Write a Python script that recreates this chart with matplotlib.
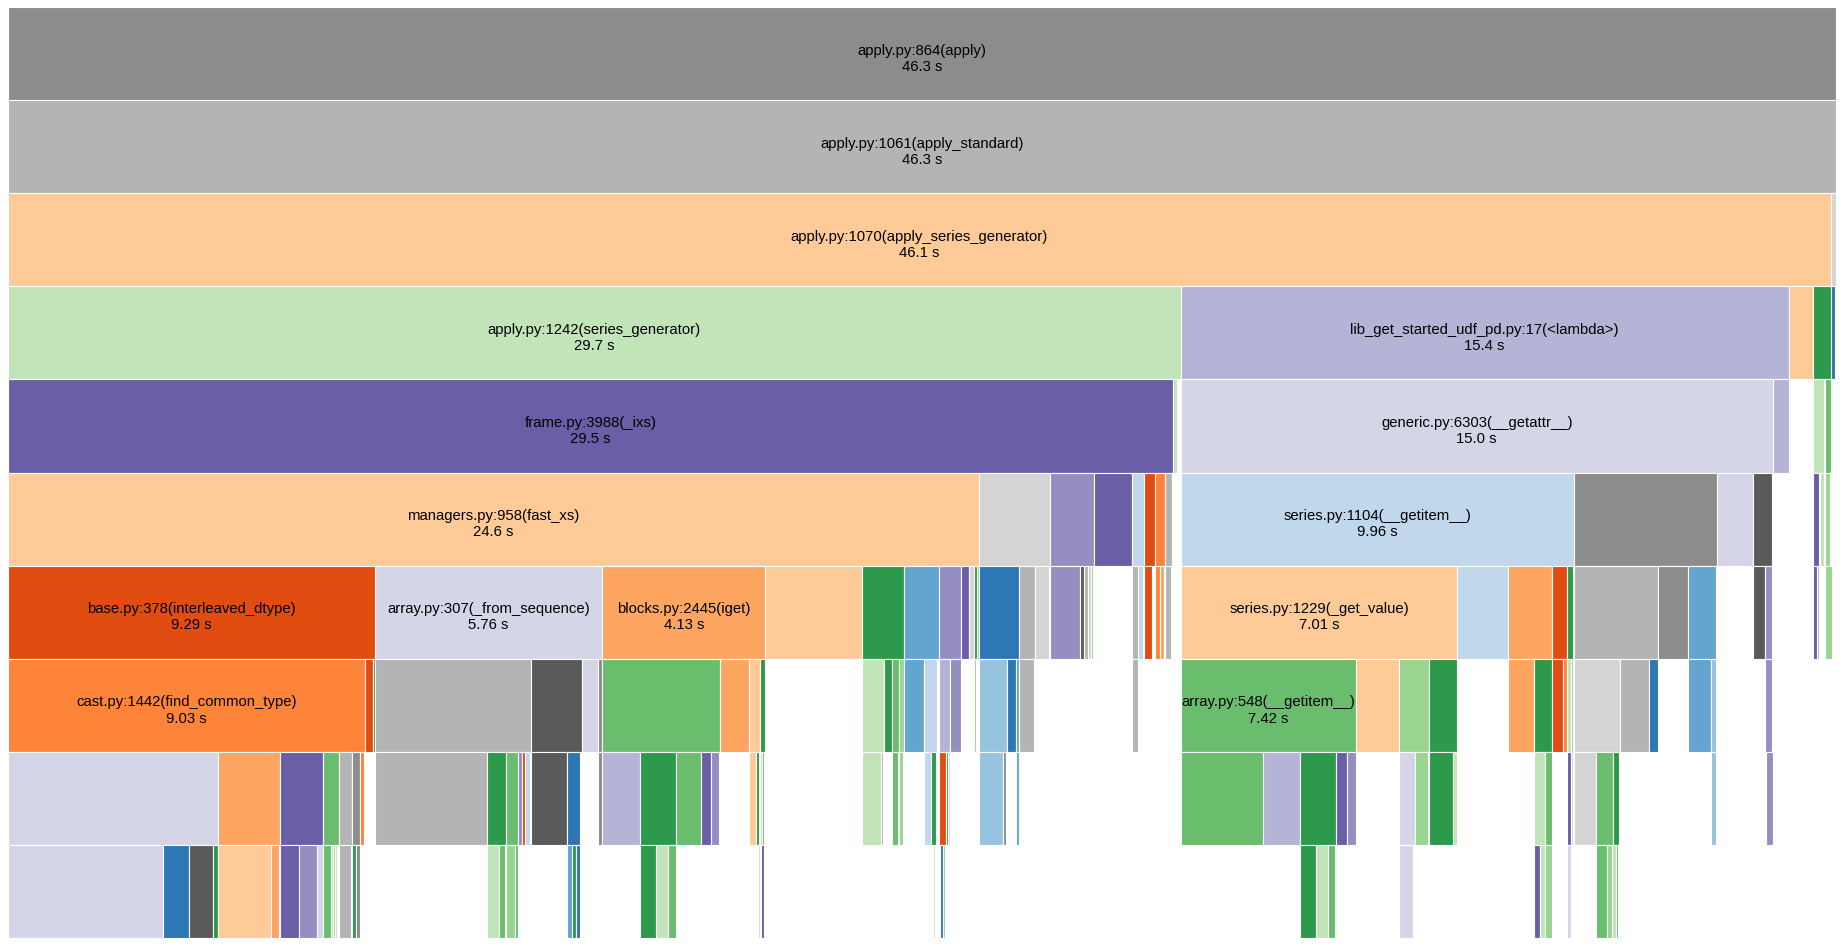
import matplotlib.pyplot as plt

# snakeviz-like icicle of a profile run; widths are seconds, None = empty space
palette = {
    'g0': '#8c8c8c', 'g1': '#b4b4b4', 'g2': '#d4d4d4', 'gd': '#5a5a5a',
    'b1': '#2c77b4', 'b2': '#62a5cf', 'b3': '#96c3dd', 'b4': '#c0d7ec',
    'o1': '#e14c10', 'o2': '#fd8439', 'o3': '#fda561', 'o4': '#fdca98',
    'G1': '#2c9a4a', 'G2': '#6abd6d', 'G3': '#98d591', 'G4': '#c1e5b9',
    'p1': '#6a5fa6', 'p2': '#958fc1', 'p3': '#b4b4d6', 'p4': '#d4d5e7',
}

total_secs = 46.3

row0 = [(46.3, 'g0', 'apply.py:864(apply)', '46.3 s')]

row1 = [(46.3, 'g1', 'apply.py:1061(apply_standard)', '46.3 s')]

row2 = [(46.17, 'o4', 'apply.py:1070(apply_series_generator)', '46.1 s'), (0.12, 'g2')]

row3 = [(29.7, 'G4', 'apply.py:1242(series_generator)', '29.7 s'),
        (15.4, 'p3', 'lib_get_started_udf_pd.py:17(<lambda>)', '15.4 s'),
        (0.62, 'o4'), (0.46, 'G1'), (0.1, 'b1')]

row4 = [(29.5, 'p1', 'frame.py:3988(_ixs)', '29.5 s'), (0.12, 'G4'), (0.08, None),
        (15.0, 'p4', 'generic.py:6303(__getattr__)', '15.0 s'), (0.4, 'p3'),
        (0.62, None), (0.27, 'G4'), (0.03, None), (0.15, 'G2'), (0.02, None), (0.04, 'o2')]

row5 = [(24.6, 'o4', 'managers.py:958(fast_xs)', '24.6 s'), (1.79, 'g2'), (1.11, 'p2'),
        (0.96, 'p1'), (0.32, 'b4'), (0.27, 'o1'), (0.25, 'o2'), (0.17, 'g1'), (0.04, 'G1'),
        (0.19, None),
        (9.96, 'b4', 'series.py:1104(__getitem__)', '9.96 s'), (3.63, 'g0'), (0.91, 'p4'),
        (0.48, 'gd'), (1.04, None), (0.14, 'p1'), (0.03, None), (0.1, 'G4'), (0.03, None),
        (0.14, 'G3'), (0.03, None), (0.04, 'o2')]

row6 = [(9.29, 'o1', 'base.py:378(interleaved_dtype)', '9.29 s'),
        (5.76, 'p4', 'array.py:307(_from_sequence)', '5.76 s'),
        (4.13, 'o3', 'blocks.py:2445(iget)', '4.13 s'),
        (2.45, 'o4'), (1.06, 'G1'), (0.89, 'b2'), (0.56, 'p2'), (0.2, 'p1'), (0.13, 'g2'),
        (0.08, 'G1'), (0.05, 'G3'),
        (1.01, 'b1'), (0.39, 'g1'), (0.37, 'g2'), (0.02, None),
        (0.76, 'p2'), (0.1, 'gd'), (0.11, 'g1'), (0.08, 'g2'), (0.04, 'G3'), (0.02, None),
        (0.96, None),
        (0.17, 'g1'), (0.13, 'b4'), (0.02, None),
        (0.2, 'o1'), (0.07, None),
        (0.12, 'o2'), (0.12, 'o3'), (0.01, None),
        (0.15, 'g1'), (0.25, None),
        (7.01, 'o4', 'series.py:1229(_get_value)', '7.01 s'), (1.27, 'b4'), (1.13, 'o3'),
        (0.38, 'o1'), (0.15, 'G1'), (0.02, None),
        (2.14, 'g1'), (0.75, 'g0'), (0.72, 'b2'), (0.02, None),
        (0.91, None),
        (0.29, 'gd'), (0.19, 'p2'),
        (1.04, None), (0.11, 'p1'), (0.03, 'p3'), (0.16, None), (0.17, 'G3')]

row7 = [(9.03, 'o2', 'cast.py:1442(find_common_type)', '9.03 s'), (0.22, 'o1'), (0.04, 'G1'),
        (3.95, 'g1'), (1.31, 'gd'), (0.4, 'p4'), (0.1, 'g0'),
        (2.98, 'G2'), (0.74, 'o3'), (0.27, 'o4'), (0.14, 'G1'),
        (2.45, None),
        (0.56, 'G4'), (0.21, 'G1'), (0.17, 'G2'), (0.12, 'G3'),
        (0.52, 'b2'), (0.33, 'b4'), (0.04, None),
        (0.28, 'p3'), (0.27, 'p2'), (0.34, None),
        (0.05, 'G3'), (0.08, None),
        (0.7, 'b3'), (0.24, 'b1'), (0.07, 'b2'),
        (0.37, 'g1'), (2.48, None),
        (0.16, 'g1'), (1.08, None),
        (4.43, 'G2', 'array.py:548(__getitem__)', '7.42 s'), (1.11, 'o4'), (0.74, 'G3'),
        (0.71, 'G1'), (0.02, None),
        (1.27, None),
        (0.68, 'o3'), (0.45, 'G1'),
        (0.27, 'o1'), (0.11, 'o2'),
        (0.09, 'G4'), (0.06, 'G3'), (0.02, None),
        (1.17, 'g2'), (0.74, 'g1'), (0.22, 'b1'), (0.01, None),
        (0.75, None),
        (0.58, 'b2'), (0.13, 'b3'),
        (1.23, None), (0.19, 'p2'),
        (1.17, None), (0.03, 'p3'), (0.39, None), (0.03, 'o4')]

row8 = [(5.33, 'p4'), (1.56, 'o3'), (1.1, 'p1'), (0.39, 'G2'), (0.34, 'g1'), (0.2, 'g0'),
        (0.1, 'o2'), (0.01, None),
        (0.26, None),
        (2.85, 'g1'), (0.48, 'G1'), (0.3, 'G2'), (0.09, 'p2'), (0.09, 'o1'), (0.11, 'b4'),
        (0.03, None),
        (0.92, 'gd'), (0.34, 'b1'), (0.05, None),
        (0.4, None),
        (0.1, 'g0'),
        (0.95, 'p3'), (0.91, 'G1'), (0.63, 'G2'), (0.26, 'p1'), (0.22, 'p2'),
        (0.75, None),
        (0.17, 'o4'), (0.07, 'G1'), (0.03, None),
        (0.06, 'G4'), (0.05, 'G2'), (0.03, None),
        (2.45, None),
        (0.48, 'G4'), (0.06, 'g1'), (0.02, None),
        (0.21, None),
        (0.15, 'G2'), (0.02, None),
        (0.11, 'G3'), (0.01, None),
        (0.52, None),
        (0.18, 'b4'), (0.12, 'G1'), (0.03, None),
        (0.04, None),
        (0.17, 'o1'), (0.05, 'G1'), (0.05, 'g2'), (0.01, None),
        (0.63, None), (0.03, 'p1'), (0.08, None),
        (0.6, 'b3'), (0.08, 'g0'), (0.02, None),
        (0.24, None), (0.06, 'b2'),
        (4.1, None),
        (2.08, 'G2'), (0.94, 'p3'), (0.91, 'G1'), (0.28, 'p1'), (0.22, 'p2'),
        (1.11, None),
        (0.4, 'p4'), (0.32, 'G3'), (0.02, None),
        (0.61, 'G1'), (0.1, 'G4'),
        (1.97, None),
        (0.27, 'G4'), (0.18, 'G2'),
        (0.38, None),
        (0.09, 'p1'), (0.07, 'G4'), (0.01, None),
        (0.55, 'g2'), (0.43, 'G2'), (0.17, 'G1'), (0.02, None),
        (2.3, None), (0.13, 'b3'),
        (1.27, None), (0.17, 'p2'),
        (1.16, None), (0.03, 'p3'), (0.38, None), (0.03, 'o4')]

row9 = [(3.93, 'p4'), (0.66, 'b1'), (0.59, 'gd'), (0.13, 'G1'), (0.02, None),
        (1.33, 'o4'), (0.21, 'o3'), (0.02, None),
        (0.48, 'p1'), (0.46, 'p2'), (0.15, 'p4'), (0.01, None),
        (0.18, 'G2'), (0.05, 'G4'), (0.06, 'G3'), (0.06, 'G4'), (0.04, None),
        (0.3, 'g1'), (0.04, None),
        (0.09, 'G1'), (0.1, 'g0'),
        (3.23, None),
        (0.3, 'G4'), (0.16, 'G2'), (0.02, None),
        (0.22, 'G3'), (0.08, 'G2'),
        (1.24, None),
        (0.12, 'b2'), (0.1, 'G1'), (0.1, 'b1'),
        (1.53, None),
        (0.41, 'G1'), (0.3, 'G4'), (0.19, 'G2'),
        (2.09, None), (0.04, 'G4'), (0.04, None), (0.06, 'p1'),
        (4.3, None), (0.05, 'G4'), (0.12, None), (0.08, 'b1'), (0.03, 'G3'),
        (9.0, None),
        (0.4, 'G1'), (0.31, 'G4'), (0.17, 'G2'),
        (1.64, None),
        (0.35, 'p4'), (0.03, 'g0'),
        (3.04, None),
        (0.14, 'p1'), (0.13, 'G4'), (0.18, 'G3'),
        (0.38, None),
        (0.09, 'p4'), (0.03, 'G4'),
        (0.6, None),
        (0.29, 'G2'), (0.13, 'G3'), (0.1, 'G4'), (0.06, 'G2'),
        (5.48, None), (0.03, 'o4')]

rows = [row0, row1, row2, row3, row4, row5, row6, row7, row8, row9]

fig = plt.figure(figsize=(18.46, 9.53), dpi=100)
ax = fig.add_axes([8 / 1846, 14 / 953, 1828 / 1846, 931 / 953])

for depth, row in enumerate(rows):
    left = 0.0
    for seg in row:
        secs, key = seg[0], seg[1]
        if key is not None:
            ax.barh(depth, secs, left=left, height=1, align='edge',
                    color=palette[key], edgecolor='white', linewidth=0.8)
            if len(seg) > 2:
                ax.text(left + secs / 2, depth + 0.545, seg[2] + '\n' + seg[3],
                        ha='center', va='center', fontsize=10.7,
                        family='Liberation Sans', color='black')
        left += secs

ax.set_xlim(0, total_secs)
ax.set_ylim(len(rows), 0)
ax.axis('off')

fig.savefig('out.png', dpi=100)
